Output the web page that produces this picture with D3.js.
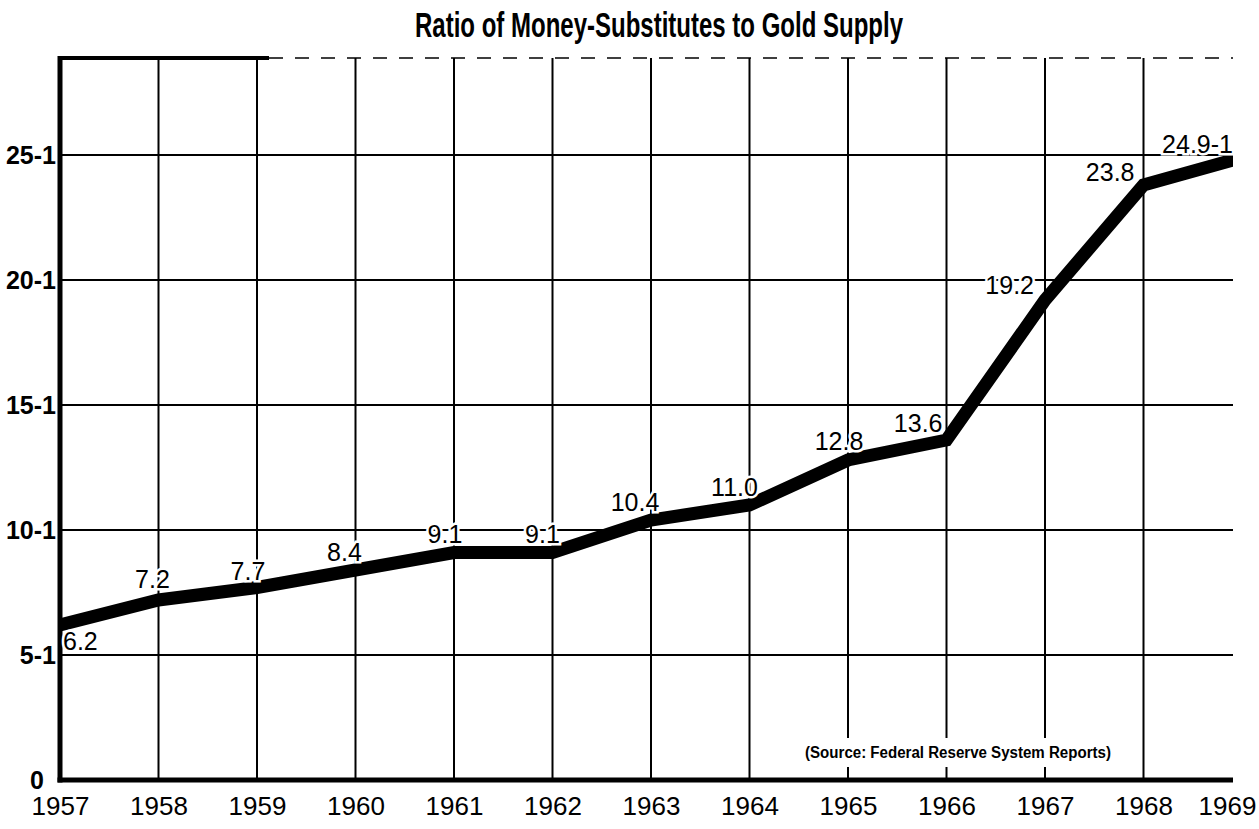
<!DOCTYPE html>
<html>
<head>
<meta charset="utf-8">
<script src="https://cdn.jsdelivr.net/npm/d3@7"></script>
<style>
  body { margin: 0; background: #fff; }
  text { font-family: "Liberation Sans Narrow", "Arial Narrow", sans-serif; fill: #000; }
</style>
</head>
<body>
<svg width="1259" height="829"></svg>
<script>
// data
var years = [1957, 1958, 1959, 1960, 1961, 1962, 1963, 1964, 1965, 1966, 1967, 1968, 1969];
var ratios = [6.2, 7.2, 7.7, 8.4, 9.1, 9.1, 10.4, 11.0, 12.8, 13.6, 19.2, 23.8, 24.9];
var pointLabels = ["6.2", "7.2", "7.7", "8.4", "9.1", "9.1", "10.4", "11.0", "12.8", "13.6", "19.2", "23.8", "24.9-1"];
var yTicks = [0, 5, 10, 15, 20, 25];
var title = "Ratio of Money-Substitutes to Gold Supply";
var source = "(Source: Federal Reserve System Reports)";

// where each value label sits relative to its point: dx, dy, anchor
var labelPlace = [
    [3, 25, "start"], [-6, -12, "middle"], [-9, -8, "middle"], [-11, -9, "middle"],
    [-9, -10, "middle"], [-10, -10, "middle"], [-16, -9, "middle"], [-15, -9, "middle"],
    [-9, -10, "middle"], [-4, -8, "end"], [-11, -6, "end"], [-9, -4, "end"], [-9, -5, "end"]
];

var svg = d3.select("svg");
var plotL = 60, plotR = 1233, plotT = 58, plotB = 780;

var x = d3.scaleLinear().domain([1957, 1969]).range([plotL, plotL + 12 * 98.5]);
var y = d3.scaleLinear().domain([0, 25]).range([plotB, plotB - 625]);

var data = years.map(function (d, i) { return { year: d, value: ratios[i], label: pointLabels[i] }; });

// title
svg.append("text")
    .attr("x", 659).attr("y", 37)
    .attr("text-anchor", "middle")
    .attr("textLength", 488).attr("lengthAdjust", "spacingAndGlyphs")
    .style("font-size", "35px").style("font-weight", "bold")
    .text(title);

var g = svg.append("g");

// grid
g.selectAll(".vgrid")
    .data(years.slice(1, -1))
    .enter().append("line")
    .attr("class", "vgrid")
    .attr("x1", function (d) { return x(d); }).attr("x2", function (d) { return x(d); })
    .attr("y1", plotT).attr("y2", plotB)
    .attr("stroke", "#000").attr("stroke-width", 2);

g.selectAll(".hgrid")
    .data(yTicks.slice(1))
    .enter().append("line")
    .attr("class", "hgrid")
    .attr("x1", plotL).attr("x2", plotR)
    .attr("y1", function (d) { return y(d); }).attr("y2", function (d) { return y(d); })
    .attr("stroke", "#000").attr("stroke-width", 2);

// top frame, heavy at the left, broken further on
g.append("line").attr("x1", plotL).attr("x2", x(1959) + 12).attr("y1", plotT).attr("y2", plotT)
    .attr("stroke", "#000").attr("stroke-width", 4);
g.append("line").attr("x1", x(1959) + 12).attr("x2", plotR).attr("y1", plotT).attr("y2", plotT)
    .attr("stroke", "#000").attr("stroke-width", 1.5).attr("stroke-dasharray", "14,12");

// source note (white box cuts the grid)
var src = g.append("g");
var srcBox = src.append("rect").attr("fill", "#fff");
var srcText = src.append("text")
    .attr("x", 805).attr("y", 758)
    .attr("textLength", 306).attr("lengthAdjust", "spacingAndGlyphs")
    .style("font-size", "16px").style("font-weight", "bold")
    .text(source);
var bb = srcText.node().getBBox();
srcBox.attr("x", bb.x - 4).attr("y", bb.y - 6).attr("width", bb.width + 8).attr("height", bb.height + 12);

// axes
var xAxis = g.append("g")
    .attr("transform", "translate(0," + plotB + ")")
    .call(d3.axisBottom(x).tickValues(years).tickFormat(d3.format("d")).tickSize(0).tickPadding(17));
xAxis.select(".domain").remove();
xAxis.selectAll("text").style("font-size", "26px").attr("font-family", null);
xAxis.selectAll("text").filter(function (d) { return d === 1969; }).attr("dx", -15);

var yAxis = g.append("g")
    .attr("transform", "translate(" + (plotL - 2) + ",0)")
    .call(d3.axisLeft(y).tickValues(yTicks).tickFormat(function (d) { return d === 0 ? "0" : d + "-1"; }).tickSize(0).tickPadding(2));
yAxis.select(".domain").remove();
yAxis.selectAll("text").style("font-size", "25px").style("font-weight", "bold").attr("font-family", null);
yAxis.selectAll("text").filter(function (d) { return d === 0; }).attr("dx", -12);

g.append("line").attr("x1", plotL).attr("x2", plotL).attr("y1", plotT - 2).attr("y2", plotB + 2.5)
    .attr("stroke", "#000").attr("stroke-width", 5);
g.append("line").attr("x1", plotL - 2.5).attr("x2", plotR).attr("y1", plotB).attr("y2", plotB)
    .attr("stroke", "#000").attr("stroke-width", 5);

// the ratio line
svg.append("clipPath").attr("id", "plot")
    .append("rect").attr("x", plotL).attr("y", plotT).attr("width", plotR - plotL).attr("height", plotB - plotT);

var line = d3.line()
    .x(function (d) { return x(d.year); })
    .y(function (d) { return y(d.value); });

g.append("path")
    .datum(data)
    .attr("clip-path", "url(#plot)")
    .attr("d", line)
    .attr("fill", "none")
    .attr("stroke", "#000")
    .attr("stroke-width", 13)
    .attr("stroke-linejoin", "miter");

// value labels
g.selectAll(".val")
    .data(data)
    .enter().append("text")
    .attr("class", "val")
    .attr("x", function (d, i) { return x(d.year) + labelPlace[i][0]; })
    .attr("y", function (d, i) { return y(d.value) + labelPlace[i][1]; })
    .attr("text-anchor", function (d, i) { return labelPlace[i][2]; })
    .style("font-size", "25px")
    .style("paint-order", "stroke")
    .attr("stroke", "#fff").attr("stroke-width", 5)
    .text(function (d) { return d.label; });
</script>
</body>
</html>
